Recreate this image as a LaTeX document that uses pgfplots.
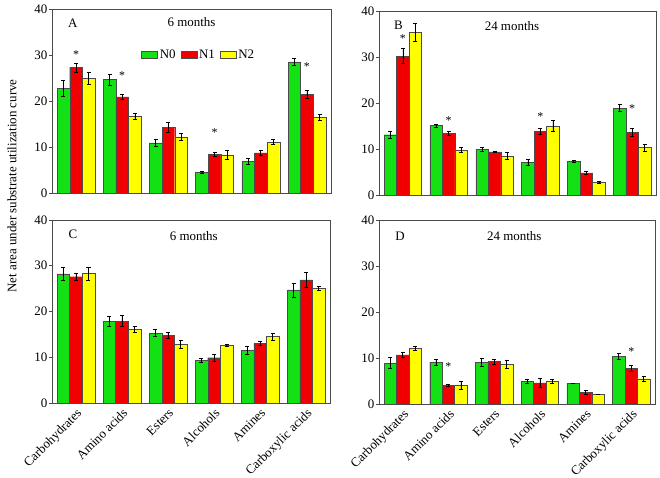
\documentclass[border=0pt]{standalone}
\usepackage{pgfplots}
\pgfplotsset{compat=1.18}
\usepackage{pgfplotstable}
\usepackage{fontspec}
\setmainfont{Liberation Serif}

\definecolor{cN0}{RGB}{20,225,20}
\definecolor{cN1}{RGB}{240,0,0}
\definecolor{cN2}{RGB}{255,255,0}
\definecolor{edge}{RGB}{75,75,75}

% x, N0, err, N1, err, N2, err
\pgfplotstableread{
x a ea b eb c ec
0 22.8 1.7 27.3 1.0 24.9 1.3
1 24.7 1.2 20.9 0.6 16.7 0.7
2 10.9 0.7 14.3 1.0 12.2 0.7
3 4.5 0.2 8.4 0.5 8.3 0.9
4 6.9 0.7 8.7 0.6 11.1 0.5
5 28.5 0.8 21.4 0.9 16.5 0.6
}\tabA
\pgfplotstableread{
x a ea b eb c ec
0 13.1 0.8 30.2 1.6 35.4 2.0
1 15.1 0.3 13.4 0.5 9.8 0.5
2 9.9 0.5 9.4 0.2 8.5 0.8
3 7.1 0.7 13.8 0.7 15.0 1.2
4 7.3 0.3 4.8 0.3 2.8 0.15
5 18.9 0.8 13.6 0.9 10.3 0.8
}\tabB
\pgfplotstableread{
x a ea b eb c ec
0 28.2 1.4 27.6 0.8 28.3 1.4
1 17.9 1.1 17.9 1.2 16.1 0.6
2 15.3 0.7 14.8 0.6 12.8 0.9
3 9.3 0.5 9.9 0.8 12.6 0.15
4 11.5 0.8 13.0 0.4 14.5 0.7
5 24.7 1.5 26.9 1.6 25.1 0.5
}\tabC
\pgfplotstableread{
x a ea b eb c ec
0 8.9 1.2 10.7 0.6 12.1 0.4
1 9.1 0.6 4.1 0.2 4.1 0.9
2 9.0 0.9 9.2 0.5 8.6 0.9
3 4.9 0.4 4.6 0.9 4.9 0.4
4 4.5 0.1 2.6 0.4 2.1 0.1
5 10.4 0.6 7.8 0.7 5.5 0.6
}\tabD

% significance stars (above N1)
\pgfplotstableread{
x y
0 30.0
1 25.6
3 13.1
5 27.5
}\starA
\pgfplotstableread{
x y
0 34.0
1 16.1
3 17.0
5 18.8
}\starB
\pgfplotstableread{
x y
1 8.1
5 11.3
}\starD

\pgfplotsset{
  panel/.style={
    scale only axis,
    anchor=south west,
    ymin=0, ymax=40, ytick={0,10,20,30,40},
    xmin=-0.52, xmax=5.52, xtick={0,...,5},
    tick pos=left, tick align=outside,
    xtick style={draw=none},
    ytick style={edge, line width=0.6bp},
    major tick length=3bp,
    axis line style={edge, line width=0.8bp},
    ticklabel style={font=\fontsize{13}{15}\selectfont},
    yticklabel style={inner sep=1.5bp},
    /pgf/number format/assume math mode=true,
    legend image code/.code={\draw[#1] (0bp,-3.5bp) rectangle (16bp,3.5bp);},
  },
  catlabels/.style={
    xticklabels={Carbohydrates, Amino acids, Esters, Alcohols, Amines, Carboxylic acids},
    xticklabel style={rotate=45, anchor=north east, inner sep=1pt},
  },
  nolabels/.style={xticklabels={}},
  bar/.style={ybar, bar width=0.273, bar shift=0, fill=#1, draw=edge, line width=0.4bp,
    error bars/.cd, y dir=both, y explicit,
    error bar style={black, line width=0.6bp},
    error mark options={rotate=90, mark size=2bp, black, line width=0.6bp}},
  star/.style={draw=none, mark=none, forget plot,
    nodes near coords={*},
    every node near coord/.style={anchor=center, inner sep=0pt, font=\fontsize{12}{14}\selectfont}},
}

\newcommand{\threebars}[1]{%
  \addplot[bar=cN0] table[x expr=\thisrow{x}-0.273, y=a, y error=ea] {#1};
  \addplot[bar=cN1] table[x=x, y=b, y error=eb] {#1};
  \addplot[bar=cN2] table[x expr=\thisrow{x}+0.273, y=c, y error=ec] {#1};
}

\begin{document}
\begin{tikzpicture}[x=1bp, y=1bp, font=\fontsize{13}{15}\selectfont]
  \useasboundingbox (0,0) rectangle (660bp,478bp);

  % A
  \begin{axis}[panel, nolabels, at={(52bp,285bp)}, width=279bp, height=184bp,
      legend style={at={(0.32,0.75)}, anchor=west, draw=none, fill=none,
        legend columns=3, inner sep=0pt,
        font=\fontsize{13}{15}\selectfont,
        /tikz/every even column/.append style={column sep=3bp},
        /tikz/every odd column/.append style={column sep=0bp}}]
    \threebars{\tabA}
    \legend{N0, N1, N2}
    \addplot[star] table[x=x, y=y] {\starA};
    \node at (rel axis cs:0.075,0.92) {A};
    \node at (rel axis cs:0.50,0.93) {6 months};
  \end{axis}

  % B
  \begin{axis}[panel, nolabels, at={(379bp,283bp)}, width=277bp, height=184bp]
    \threebars{\tabB}
    \addplot[star] table[x=x, y=y] {\starB};
    \node at (rel axis cs:0.07,0.92) {B};
    \node at (rel axis cs:0.48,0.92) {24 months};
  \end{axis}

  % C
  \begin{axis}[panel, catlabels, at={(52bp,75bp)}, width=278bp, height=183bp]
    \threebars{\tabC}
    \node at (rel axis cs:0.075,0.92) {C};
    \node at (rel axis cs:0.51,0.91) {6 months};
  \end{axis}

  % D
  \begin{axis}[panel, catlabels, at={(379bp,74bp)}, width=276bp, height=184bp]
    \threebars{\tabD}
    \addplot[star] table[x=x, y=y] {\starD};
    \node at (rel axis cs:0.076,0.91) {D};
    \node at (rel axis cs:0.49,0.91) {24 months};
  \end{axis}

  \node[rotate=90] at (12bp,292bp) {Net area under substrate utilization curve};
\end{tikzpicture}
\end{document}
